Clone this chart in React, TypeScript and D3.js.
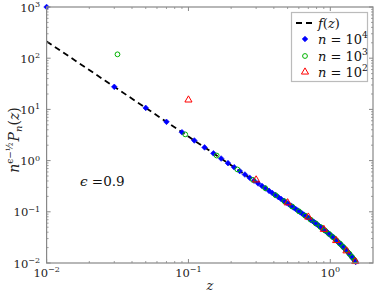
import React from "react";
import * as d3 from "d3";

const W = 374;
const H = 294;

// f(z) curve samples
const fZ = [0.01, 0.02, 0.03, 0.05, 0.07, 0.1, 0.15, 0.2, 0.3, 0.4, 0.5, 0.6, 0.7, 0.8, 0.9, 1.0, 1.1, 1.2, 1.3, 1.4, 1.5, 1.52];
const fV = [213, 58.8, 27.65, 10.69, 5.72, 2.944, 1.385, 0.811, 0.381, 0.2222, 0.1458, 0.1027, 0.0759, 0.0578, 0.0449, 0.0354, 0.0281, 0.0223, 0.0176, 0.0139, 0.0108, 0.01026];

// n = 10^4
const blueZ = [0.01, 0.03, 0.05, 0.07, 0.09, 0.11, 0.13, 0.15, 0.17, 0.19, 0.21, 0.23, 0.25, 0.27, 0.29, 0.31, 0.33, 0.35, 0.37, 0.39, 0.41, 0.43, 0.45, 0.47, 0.49, 0.51, 0.53, 0.55, 0.57, 0.59, 0.61, 0.63, 0.65, 0.67, 0.69, 0.71, 0.73, 0.75, 0.77, 0.79, 0.81, 0.83, 0.85, 0.87, 0.89, 0.91, 0.93, 0.95, 0.97, 0.99, 1.01, 1.03, 1.05, 1.07, 1.09, 1.11, 1.13, 1.15, 1.17, 1.19, 1.21, 1.23, 1.25, 1.27, 1.29, 1.31, 1.33, 1.35, 1.37, 1.39, 1.41, 1.43, 1.45, 1.47, 1.49, 1.51];
const blueV = [1000, 27.6, 10.7, 5.72, 3.58, 2.47, 1.81, 1.385, 1.098, 0.892, 0.741, 0.625, 0.535, 0.463, 0.406, 0.358, 0.319, 0.286, 0.257, 0.233, 0.212, 0.194, 0.178, 0.164, 0.1515, 0.1404, 0.1304, 0.1215, 0.1134, 0.1061, 0.0995, 0.0934, 0.0878, 0.0827, 0.0781, 0.0737, 0.0697, 0.066, 0.0625, 0.0593, 0.0563, 0.0535, 0.0508, 0.0484, 0.046, 0.0439, 0.0418, 0.0398, 0.038, 0.0362, 0.0346, 0.033, 0.0315, 0.0301, 0.0287, 0.0274, 0.0262, 0.025, 0.0239, 0.0228, 0.0218, 0.0208, 0.0198, 0.0189, 0.0181, 0.0172, 0.0164, 0.0157, 0.0149, 0.0142, 0.0135, 0.0129, 0.0123, 0.0117, 0.0111, 0.0105];

// n = 10^3
const greenZ = [0.0316, 0.0949, 0.1581, 0.2214, 0.2846, 0.3479, 0.4111, 0.4743, 0.5376, 0.6008, 0.6641, 0.7273, 0.7906, 0.8538, 0.9171, 0.9803, 1.0435, 1.1068, 1.17, 1.2333, 1.2965, 1.3598, 1.423, 1.4863];
const greenV = [119, 3.25, 1.256, 0.671, 0.42, 0.289, 0.211, 0.161, 0.127, 0.1024, 0.0842, 0.0702, 0.0592, 0.0504, 0.0431, 0.0371, 0.032, 0.0276, 0.0239, 0.0206, 0.0178, 0.0153, 0.0131, 0.0112];

// n = 10^2
const redZ = [0.1, 0.3, 0.5, 0.7, 0.9, 1.1, 1.3, 1.5];
const redV = [15.3, 0.42, 0.15, 0.079, 0.0455, 0.0275, 0.0173, 0.0107];

const xMajor = [0.01, 0.1, 1];
const xMajorExp = ["−2", "−1", "0"];
const yMajor = [0.01, 0.1, 1, 10, 100, 1000];
const yMajorExp = ["−2", "−1", "0", "1", "2", "3"];
const legendExp = ["4", "3", "2"];

const FONT = "'DejaVu Serif', serif";
const BLUE = "#0000ff";
const GREEN = "#00b400";
const RED = "#ff0000";
const SPINE = "#888888";

export default function App() {
  const x = d3.scaleLog().domain([0.01, 2]).range([46.6, 373]);
  const y = d3.scaleLog().domain([0.01, 1000]).range([263, 7]);
  const [x0, x1] = x.range();
  const [y0, y1] = y.range();

  const xMinor: number[] = [];
  [0.01, 0.1, 1].forEach((d) => {
    for (let k = 2; k <= 9; k++) {
      const v = d * k;
      if (v < 2) xMinor.push(v);
    }
  });
  const yMinor: number[] = [];
  [0.01, 0.1, 1, 10, 100].forEach((d) => {
    for (let k = 2; k <= 9; k++) yMinor.push(d * k);
  });

  const line = d3
    .line<number>()
    .x((_, i) => x(fZ[i]))
    .y((d) => y(d))
    .curve(d3.curveMonotoneX);

  const diamond = d3.symbol().type(d3.symbolSquare).size(16)();
  const tri = d3.symbol().type(d3.symbolTriangle).size(22)();

  const legendRows = [39, 56, 72];

  return (
    <svg width={W} height={H} style={{ position: "absolute", left: 0, top: 0, background: "#fff", fontFamily: FONT }}>
      {/* f(z) */}
      <path d={line(fV) || ""} fill="none" stroke="#000" strokeWidth={1.8} strokeDasharray="6,4" />
      {/* n=10^4 */}
      {blueZ.map((z, i) => (
        <path key={"b" + i} d={diamond || ""} transform={`translate(${x(z)},${y(blueV[i])}) rotate(45)`} fill={BLUE} stroke={BLUE} strokeWidth={0.6} />
      ))}
      {/* n=10^3 */}
      {greenZ.map((z, i) => (
        <circle key={"g" + i} cx={x(z)} cy={y(greenV[i])} r={2.4} fill="none" stroke={GREEN} strokeWidth={1} />
      ))}
      {/* n=10^2 */}
      {redZ.map((z, i) => (
        <path key={"r" + i} d={tri || ""} transform={`translate(${x(z)},${y(redV[i])})`} fill="none" stroke={RED} strokeWidth={1} />
      ))}

      {/* spines */}
      <rect x={x0} y={y1} width={x1 - x0} height={y0 - y1} fill="none" stroke={SPINE} strokeWidth={1.2} />

      {/* x ticks */}
      {xMajor.map((v) => (
        <g key={"xm" + v}>
          <line x1={x(v)} x2={x(v)} y1={y0} y2={y0 - 4} stroke={SPINE} />
          <line x1={x(v)} x2={x(v)} y1={y1} y2={y1 + 4} stroke={SPINE} />
        </g>
      ))}
      {xMinor.map((v) => (
        <g key={"xn" + v}>
          <line x1={x(v)} x2={x(v)} y1={y0} y2={y0 - 2} stroke={SPINE} strokeWidth={0.8} />
          <line x1={x(v)} x2={x(v)} y1={y1} y2={y1 + 2} stroke={SPINE} strokeWidth={0.8} />
        </g>
      ))}
      {/* y ticks */}
      {yMajor.map((v) => (
        <g key={"ym" + v}>
          <line x1={x0} x2={x0 + 4} y1={y(v)} y2={y(v)} stroke={SPINE} />
          <line x1={x1} x2={x1 - 4} y1={y(v)} y2={y(v)} stroke={SPINE} />
        </g>
      ))}
      {yMinor.map((v) => (
        <g key={"yn" + v}>
          <line x1={x0} x2={x0 + 2} y1={y(v)} y2={y(v)} stroke={SPINE} strokeWidth={0.8} />
          <line x1={x1} x2={x1 - 2} y1={y(v)} y2={y(v)} stroke={SPINE} strokeWidth={0.8} />
        </g>
      ))}

      {/* tick labels */}
      {xMajor.map((v, i) => (
        <text key={"xl" + v} x={x(v)} y={277} fontSize={11.5} textAnchor="middle" fill="#222">
          10<tspan dy={-5} fontSize={8}>{xMajorExp[i]}</tspan>
        </text>
      ))}
      {yMajor.map((v, i) => (
        <text key={"yl" + v} x={40} y={y(v) + 4.5} fontSize={11.5} textAnchor="end" fill="#222">
          10<tspan dy={-4.5} fontSize={8}>{yMajorExp[i]}</tspan>
        </text>
      ))}

      {/* axis labels */}
      <text x={210} y={290} fontSize={13} fontStyle="italic" textAnchor="middle" fill="#222">z</text>
      <text transform="translate(19,140) rotate(-90)" fontSize={14} textAnchor="middle" fill="#222">
        <tspan fontStyle="italic">n</tspan>
        <tspan dy={-6} fontSize={9}>ϵ−½</tspan>
        <tspan dy={6} dx={1} fontStyle="italic">P</tspan>
        <tspan dy={3} fontSize={10} fontStyle="italic">n</tspan>
        <tspan dy={-3}>(</tspan>
        <tspan fontStyle="italic">z</tspan>
        <tspan>)</tspan>
      </text>

      {/* annotation */}
      <text x={80} y={186} fontSize={13.5} fill="#111">
        <tspan fontStyle="italic">ϵ</tspan> =0.9
      </text>

      {/* legend */}
      <rect x={291.5} y={12.5} width={76} height={69} fill="#fff" stroke="#bbbbbb" strokeWidth={1.2} />
      <line x1={296} x2={314} y1={23} y2={23} stroke="#000" strokeWidth={1.8} strokeDasharray="6,4" />
      <text x={318} y={27.5} fontSize={13} fill="#111">
        <tspan fontStyle="italic">f</tspan>(<tspan fontStyle="italic">z</tspan>)
      </text>
      <path d={diamond || ""} transform={`translate(305,${legendRows[0]}) rotate(45)`} fill={BLUE} stroke={BLUE} strokeWidth={0.6} />
      <circle cx={305} cy={legendRows[1]} r={2.4} fill="none" stroke={GREEN} strokeWidth={1} />
      <path d={tri || ""} transform={`translate(305,${legendRows[2]})`} fill="none" stroke={RED} strokeWidth={1} />
      {legendRows.map((ry, i) => (
        <text key={"lg" + i} x={318} y={ry + 4.5} fontSize={13} fill="#111">
          <tspan fontStyle="italic">n</tspan> = 10<tspan dy={-6} fontSize={9}>{legendExp[i]}</tspan>
        </text>
      ))}
    </svg>
  );
}
